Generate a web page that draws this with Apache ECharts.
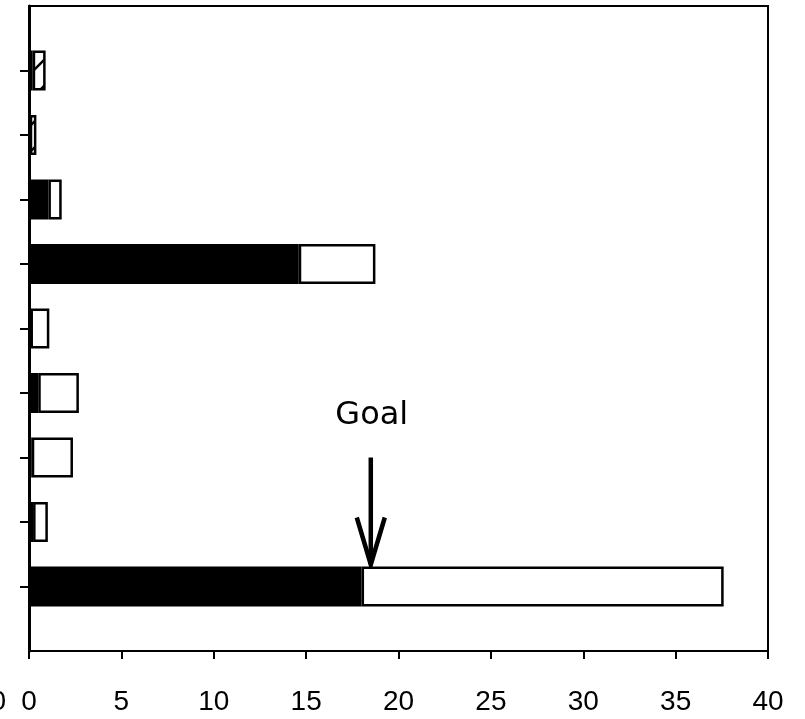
<!DOCTYPE html>
<html><head><meta charset="utf-8">
<script src="https://cdn.jsdelivr.net/npm/echarts@6/dist/echarts.min.js"></script>
<style>html,body{margin:0;padding:0;background:#fff}#c{width:805px;height:719px}</style>
</head><body><div id="c"></div>
<script>
// Categories listed top-to-bottom (no visible labels in the original)
const categories = ['A','B','C','D','E','F','G','H','I'];
// Black (filled) segment, top-to-bottom
const blackValues = [0.2, 0.04, 1.05, 14.6, 0.08, 0.5, 0.15, 0.22, 18.0];
// Total bar length, top-to-bottom
const totalValues = [0.9, 0.4, 1.77, 18.75, 1.1, 2.7, 2.38, 1.02, 37.6];
// Which white segments are hatched
const hatched = [true, true, false, false, false, false, false, false, false];
const xTicks = [0, 5, 10, 15, 20, 25, 30, 35, 40];
const goalValue = 18.5;
const goalLabel = 'Goal';

// pattern for hatched bars
const pc = document.createElement('canvas');
pc.width = 26; pc.height = 26;
const pctx = pc.getContext('2d');
pctx.fillStyle = '#fff'; pctx.fillRect(0,0,26,26);
pctx.strokeStyle = '#000'; pctx.lineWidth = 2.5;
pctx.beginPath(); pctx.moveTo(-2,28); pctx.lineTo(28,-2); pctx.stroke();

// y category axis positions 0..10 (bottom to top); bars occupy 1..9
const n = categories.length;
const yCats = [''].concat(categories.slice().reverse()).concat(['']);
const blackData = ['-'], whiteData = ['-'];
for (let i = n - 1; i >= 0; i--) {
  blackData.push(blackValues[i]);
  const item = { value: +(totalValues[i] - blackValues[i]).toFixed(3) };
  if (hatched[i]) item.itemStyle = { color: { image: pc, repeat: 'repeat' } };
  whiteData.push(item);
}
blackData.push('-'); whiteData.push('-');

const chart = echarts.init(document.getElementById('c'));
chart.setOption({
  animation: false,
  backgroundColor: '#fff',
  grid: { left: 29, right: 37, top: 6, bottom: 68, show: true, borderColor: '#000', borderWidth: 2, containLabel: false },
  xAxis: {
    type: 'value', min: xTicks[0], max: xTicks[xTicks.length-1], interval: 5,
    splitLine: { show: false },
    axisLine: { show: true, lineStyle: { color: '#000', width: 2 } },
    axisTick: { show: true, length: 8, lineStyle: { color: '#000', width: 2 } },
    axisLabel: { color: '#000', fontSize: 28, fontFamily: 'Liberation Sans, Arial, sans-serif', margin: 37 }
  },
  yAxis: {
    type: 'category', data: yCats, boundaryGap: false,
    axisLine: { show: true, onZero: false, lineStyle: { color: '#000', width: 3 } },
    axisTick: { show: true, length: 9, interval: function (i) { return i > 0 && i < yCats.length - 1; }, lineStyle: { color: '#000', width: 2 } },
    axisLabel: { show: false },
    splitLine: { show: false }
  },
  series: [
    { type: 'bar', stack: 's', data: blackData, barWidth: 40,
      itemStyle: { color: '#000', borderColor: '#000', borderWidth: 2 } },
    { type: 'bar', stack: 's', data: whiteData, barWidth: 40,
      itemStyle: { color: '#fff', borderColor: '#000', borderWidth: 2.5 } }
  ]
});

function drawAnnotations() {
  const gx = chart.convertToPixel({ xAxisIndex: 0 }, goalValue);
  const yTop = chart.convertToPixel({ yAxisIndex: 0 }, 3);
  const yBar = chart.convertToPixel({ yAxisIndex: 0 }, 1) - 20;
  const x0 = chart.convertToPixel({ xAxisIndex: 0 }, 0);
  chart.setOption({
    graphic: [
      { type: 'line', shape: { x1: gx, y1: yTop, x2: gx, y2: yBar - 2 }, style: { stroke: '#000', lineWidth: 4.5 } },
      { type: 'polyline', shape: { points: [[gx - 14, yBar - 49], [gx, yBar - 2], [gx + 14, yBar - 49]] }, style: { stroke: '#000', lineWidth: 4.5, fill: null } },
      { type: 'text', x: gx + 1, y: yTop - 42, style: { text: goalLabel, fill: '#000', fontSize: 32, fontFamily: 'DejaVu Sans', align: 'center', verticalAlign: 'middle' } },
      { type: 'text', x: x0 - 23, y: 702, style: { text: '0', fill: '#000', fontSize: 28, fontFamily: 'Liberation Sans', align: 'right', verticalAlign: 'middle' } }
    ]
  });
}
drawAnnotations();
</script>
</body></html>
